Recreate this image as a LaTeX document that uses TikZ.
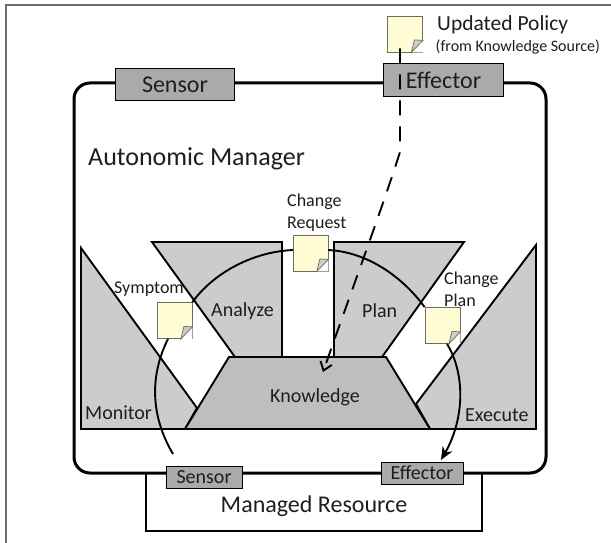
\documentclass[tikz,border=0pt]{standalone}
\usepackage{fontspec}
\setmainfont{Carlito}
\usetikzlibrary{arrows.meta}
\definecolor{panelgray}{RGB}{204,204,204}
\definecolor{knowgray}{RGB}{190,190,190}
\definecolor{boxgray}{RGB}{170,170,170}
\definecolor{notefill}{RGB}{255,252,214}
\definecolor{noteedge}{RGB}{110,110,90}
\definecolor{framegray}{RGB}{110,110,110}
\definecolor{textdark}{RGB}{30,30,30}
\tikzset{
  x=1pt,y=-1pt,
  panel/.style={draw=black,line width=1.9pt,fill=panelgray,line join=miter},
  knowledge/.style={draw=black,line width=1.9pt,fill=knowgray},
  iface/.style={draw=black,line width=1pt,fill=boxgray,inner sep=0pt,text=textdark,font=\fontsize{24}{24}\selectfont},
  ifacesmall/.style={iface,font=\fontsize{20}{20}\selectfont},
  note/.style={draw=noteedge,line width=0.8pt,fill=notefill,minimum width=35pt,minimum height=36pt,inner sep=0pt},
  lab/.style={inner sep=0pt,text=textdark,font=\fontsize{20}{20}\selectfont},
  labsm/.style={lab,font=\fontsize{18}{22}\selectfont,align=left},
  link/.style={draw=black,line width=1.9pt},
  flow/.style={link,-{Stealth[length=13pt,width=11pt]}},
  dashflow/.style={link,dash pattern=on 15pt off 11pt,-{Straight Barb[length=8pt,width=12pt,line width=1.9pt]}},
}
\newcommand{\notefold}[1]{%
  \fill[white] (#1.south east) ++(-11.5,0) -- ++(11.5,-12) -- (#1.south east) -- cycle;
  \draw[noteedge,line width=0.7pt,fill=panelgray] (#1.south east) ++(-11.5,0) -- ++(3,-12.5) -- ++(8.5,0.5) -- cycle;
}
\begin{document}
\begin{tikzpicture}
\useasboundingbox (0,0) rectangle (611,543);
\draw[framegray,line width=1.6pt] (6,543) -- (6,5) -- (611,5);

% Managed resource and manager
\node[draw=black,line width=2.8pt,minimum width=336pt,minimum height=58pt,inner sep=0pt] (resource) at (314,502) {};
\node[lab,font=\fontsize{24}{24}\selectfont] (resourcelab) at (314,506) {Managed Resource};
\draw[fill=white,draw=black,line width=3pt,rounded corners=16pt] (74,83) rectangle (546,473);

% Panels
\draw[panel] (81,248) -- (197,408) -- (185,429) -- (81,429) -- cycle;
\draw[panel] (152,242) -- (282,242) -- (282,357) -- (235,357) -- cycle;
\draw[panel] (334,242) -- (464,242) -- (382,357) -- (334,357) -- cycle;
\draw[panel] (536,245) -- (536,429) -- (430,429) -- (416,404) -- cycle;
\draw[knowledge] (229,357) -- (386,357) -- (430,429) -- (185,429) -- cycle;

% Interfaces
\node[iface,minimum width=119pt,minimum height=32pt] (sensortop) at (175,85) {Sensor};
\node[iface,minimum width=120pt,minimum height=33pt] (effectortop) at (443,80.5) {\hspace*{1pt}Effector};
\node[ifacesmall,minimum width=76pt,minimum height=22pt] (sensorbot) at (204,477) {Sensor};
\node[ifacesmall,minimum width=82pt,minimum height=22pt] (effectorbot) at (422,473) {Effector};

% Notes
\node[note] (policy) at (405,34) {};
\node[note] (symptom) at (174.5,320.5) {};
\node[note] (request) at (310.5,253) {};
\node[note] (plannote) at (442.5,325.5) {};
\notefold{policy}
\notefold{symptom}
\notefold{request}
\notefold{plannote}

% Labels
\node[lab,font=\fontsize{26}{26}\selectfont,anchor=west] (managerlab) at (88,159) {Autonomic Manager};
\node[lab,font=\fontsize{21.5}{21.5}\selectfont,anchor=west] (policylab) at (437,25) {Updated Policy};
\node[lab,font=\fontsize{16}{16}\selectfont,anchor=west] (policysub) at (435.5,47) {(from Knowledge Source)};
\node[lab,anchor=west] (monitorlab) at (85,413) {Monitor};
\node[lab,anchor=west] (analyzelab) at (211,311) {Analyze};
\node[lab,anchor=west] (planlab) at (362,311) {Plan};
\node[lab,anchor=west] (executelab) at (465,415) {Execute};
\node[lab] (knowledgelab) at (315,397) {Knowledge};
\node[lab,font=\fontsize{18}{18}\selectfont,anchor=west] (symptomlab) at (114,289) {Symptom};
\node[labsm,anchor=west] (requestlab) at (287,213) {Change\\Request};
\node[labsm,anchor=west] (planchangelab) at (444,289) {Change\\Plan};

% Connectors
\coordinate (dashbend) at (400,152);
\coordinate (symptomend) at (173,454);
\coordinate (knowtarget) at (323,372);
\coordinate (arrowend) at (441,460);
\coordinate (arcleftin) at (293,250);
\coordinate (arcrightout) at (328,250);
\draw[link] ([xshift=-6.5pt]symptom.south) .. controls (150,375) and (150,415) .. (symptomend);
\draw[link] (symptom.north east) .. controls (212,275) and (250,252) .. (arcleftin);
\draw[link] (arcrightout) .. controls (370,252) and (405,280) .. (plannote.north west);
\draw[flow] ([xshift=4.5pt]plannote.south) .. controls (466,375) and (464,420) .. (arrowend);
\draw[dashflow] ([yshift=4pt]policy.south -| dashbend) -- (dashbend) .. controls (385,200) and (350,295) .. (knowtarget);
\end{tikzpicture}
\end{document}
